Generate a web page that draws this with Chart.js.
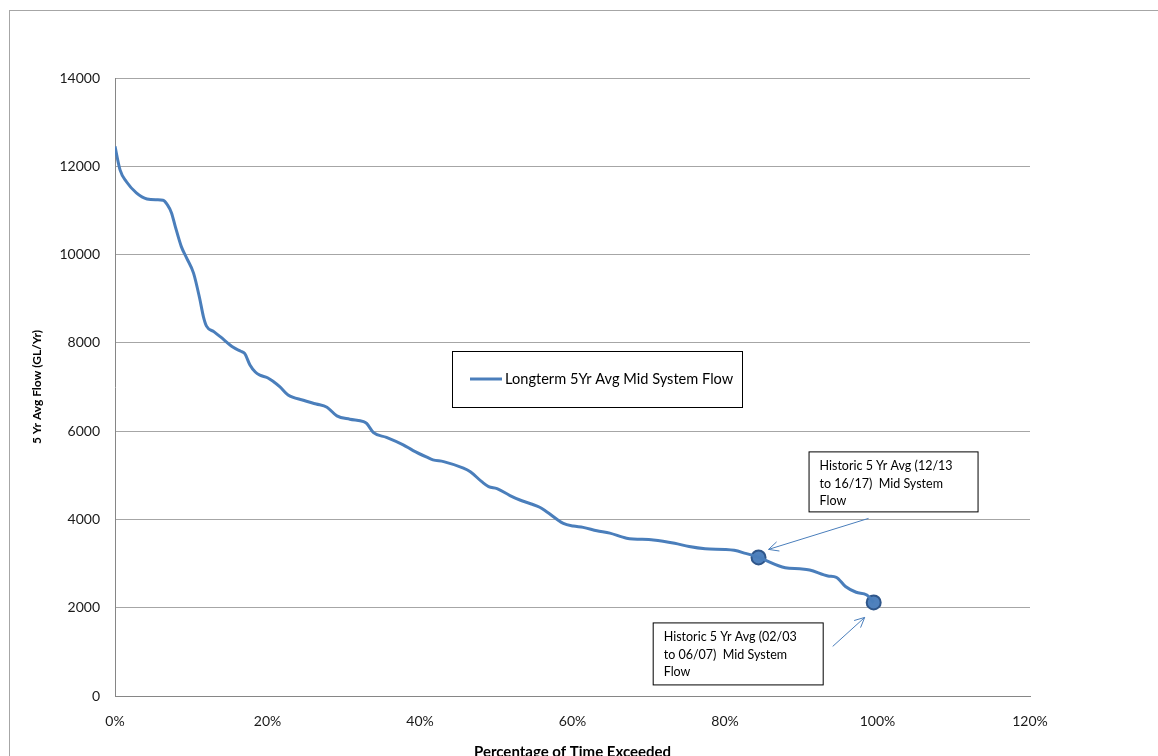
<!DOCTYPE html>
<html>
<head>
<meta charset="utf-8">
<title>5 Yr Avg Mid System Flow</title>
<script src="https://cdn.jsdelivr.net/npm/chart.js@4.4.1/dist/chart.umd.min.js"></script>
<style>
  html, body { margin: 0; padding: 0; background: #fff; overflow: hidden; }
  #wrap { position: relative; width: 1158px; height: 756px; }
  #frame { position: absolute; left: 9px; top: 10px; width: 1200px; height: 800px; border: 1px solid #a6a6a6; }
  #flowChart { position: absolute; left: 0; top: 0; }
</style>
</head>
<body>
<div id="wrap">
  <div id="frame"></div>
  <canvas id="flowChart" width="1158" height="756"></canvas>
</div>
<script>
// Percentage of time exceeded (%) and the long-term 5 yr average flow (GL/Yr)
const exceedPct = [0, 0.66, 1.5, 2.8, 4.2, 5.5, 6.3, 6.9, 7.4, 7.9, 8.7, 9.4, 10.3, 11.1, 11.6, 12.0,
  13.0, 13.8, 15.5, 16.5, 17.0, 17.7, 18.4, 19.0, 20.0, 20.8, 21.6, 22.7, 24.7, 26.4, 27.8,
  29.1, 30.8, 32.6, 33.0, 33.9, 35.6, 37.8, 39.1, 40.9, 41.7, 43.1, 45.7, 46.6, 48.1, 49.0,
  50.1, 51.8, 53.1, 54.6, 55.7, 56.6, 58.8, 60.1, 61.4, 63.2, 64.9, 67.1, 70.6, 73.4, 75.3,
  77.4, 80.0, 81.2, 82.7, 84.4, 87.9, 89.8, 91.1, 93.5, 94.6, 95.8, 97.2, 98.6, 99.5];
const longtermFlow = [12450, 11920, 11650, 11400, 11260, 11240, 11230, 11120, 10950, 10640, 10180, 9920, 9580, 9010, 8590, 8380,
  8250, 8140, 7900, 7810, 7760, 7500, 7340, 7270, 7210, 7120, 7010, 6820, 6700, 6615, 6540,
  6345, 6270, 6215, 6175, 5965, 5860, 5690, 5560, 5410, 5350, 5310, 5160, 5080, 4855, 4745,
  4700, 4540, 4440, 4350, 4275, 4175, 3910, 3850, 3820, 3745, 3690, 3575, 3535, 3460, 3385,
  3335, 3320, 3300, 3230, 3140, 2905, 2880, 2855, 2720, 2690, 2480, 2350, 2290, 2120];

// Historic 5 yr averages (points)
const historicPct = [84.4, 99.5];
const historicFlow = [3140, 2120];
const historicLabels = [
  ['Historic 5 Yr Avg (12/13', 'to 16/17)  Mid System', 'Flow'],
  ['Historic 5 Yr Avg (02/03', 'to 06/07)  Mid System', 'Flow']
];

const seriesName = 'Longterm 5Yr Avg Mid System Flow';
const xTitle = 'Percentage of Time Exceeded';
const yTitle = '5 Yr Avg Flow (GL/Yr)';

const lineColor = '#4a7ebb';

function drawArrow(ctx, x1, y1, x2, y2) {
  const ang = Math.atan2(y2 - y1, x2 - x1);
  const head = 11;
  ctx.beginPath();
  ctx.moveTo(x1, y1);
  ctx.lineTo(x2, y2);
  ctx.moveTo(x2 - head * Math.cos(ang - 0.45), y2 - head * Math.sin(ang - 0.45));
  ctx.lineTo(x2, y2);
  ctx.lineTo(x2 - head * Math.cos(ang + 0.45), y2 - head * Math.sin(ang + 0.45));
  ctx.stroke();
}

function drawNote(ctx, left, top, w, h, lines) {
  ctx.fillStyle = '#fff';
  ctx.fillRect(left, top, w, h);
  ctx.strokeStyle = '#000';
  ctx.lineWidth = 1;
  ctx.strokeRect(left + 0.5, top + 0.5, w, h);
  ctx.fillStyle = '#000';
  ctx.font = '12.5px Lato';
  ctx.textBaseline = 'middle';
  ctx.textAlign = 'left';
  lines.forEach((t, i) => ctx.fillText(t, left + 11, top + 15 + i * 17.5));
}

// Legend box and the two callouts with arrows
const notesPlugin = {
  id: 'notes',
  afterDraw(chart) {
    const ctx = chart.ctx;
    const meta = chart.getDatasetMeta(1);
    const p1 = meta.data[0], p2 = meta.data[1];
    ctx.save();

    // legend
    ctx.fillStyle = '#fff';
    ctx.fillRect(452, 351, 290, 56);
    ctx.strokeStyle = '#000';
    ctx.lineWidth = 1;
    ctx.strokeRect(452.5, 351.5, 290, 56);
    ctx.strokeStyle = lineColor;
    ctx.lineWidth = 3;
    ctx.beginPath();
    ctx.moveTo(470, 379);
    ctx.lineTo(502, 379);
    ctx.stroke();
    ctx.fillStyle = '#000';
    ctx.font = '14.6px Lato';
    ctx.textBaseline = 'middle';
    ctx.fillText(chart.data.datasets[0].label, 505, 379);

    // callouts
    drawNote(ctx, p1.x + 50, p1.y - 106, 169, 60, historicLabels[0]);
    drawNote(ctx, p2.x - 221, p2.y + 20, 170, 62, historicLabels[1]);

    ctx.strokeStyle = lineColor;
    ctx.lineWidth = 1;
    drawArrow(ctx, p1.x + 110, p1.y - 39, p1.x + 10, p1.y - 8);
    drawArrow(ctx, p2.x - 41, p2.y + 44, p2.x - 9, p2.y + 15);
    ctx.restore();
  }
};

Chart.defaults.font.family = 'Lato';
Chart.defaults.color = '#1a1a1a';

new Chart(document.getElementById('flowChart'), {
  type: 'line',
  data: {
    datasets: [{
      label: seriesName,
      data: exceedPct.map((p, i) => ({ x: p, y: longtermFlow[i] })),
      borderColor: lineColor,
      borderWidth: 3,
      pointRadius: 0,
      cubicInterpolationMode: 'monotone',
      fill: false
    }, {
      label: 'Historic 5 Yr Avg',
      data: historicPct.map((p, i) => ({ x: p, y: historicFlow[i] })),
      showLine: false,
      pointRadius: 7,
      pointBackgroundColor: '#4f81bd',
      pointBorderColor: '#2f568a',
      pointBorderWidth: 2
    }]
  },
  options: {
    responsive: false,
    animation: false,
    layout: { padding: { top: 78, right: 128, left: 0, bottom: 0 } },
    plugins: {
      legend: { display: false },
      tooltip: { enabled: false }
    },
    scales: {
      x: {
        type: 'linear',
        min: 0,
        max: 120,
        afterFit: s => { s.height = 60; },
        ticks: { stepSize: 20, padding: 17, font: { size: 14 }, callback: v => v + '%' },
        grid: { display: false, drawTicks: false },
        border: { display: true, color: '#868686', width: 1 },
        title: { display: true, text: xTitle, font: { size: 15, weight: 'bold', lineHeight: 0.53 }, color: '#000', padding: 0 }
      },
      y: {
        min: 0,
        max: 14000,
        afterFit: s => { s.width = 115; },
        ticks: { stepSize: 2000, padding: 15, font: { size: 14 }, callback: v => String(v) },
        grid: { color: '#a6a6a6', drawTicks: false },
        border: { display: true, color: '#868686', width: 1 },
        title: { display: true, text: yTitle, font: { size: 12, weight: 'bold' }, color: '#000', padding: { top: 30, bottom: 0 } }
      }
    }
  },
  plugins: [notesPlugin]
});
</script>
</body>
</html>
